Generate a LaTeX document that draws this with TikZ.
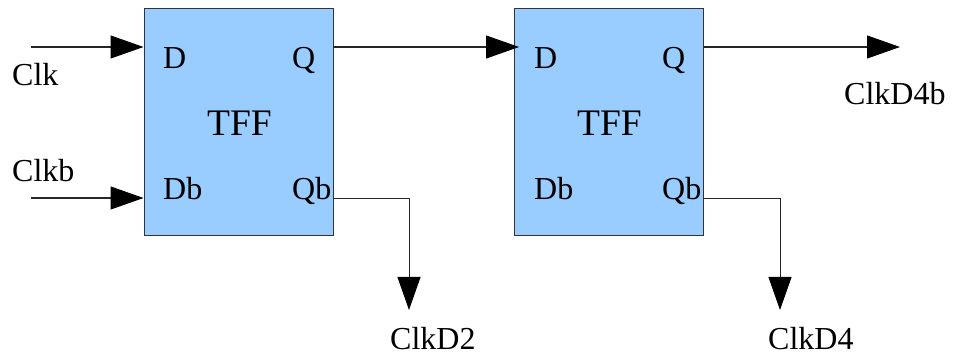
\documentclass[tikz,border=0pt]{standalone}
\usepackage{fontspec}
\setmainfont{Liberation Serif}
\usetikzlibrary{arrows.meta}
\definecolor{boxblue}{HTML}{99CCFF}
\tikzset{
  px/.style={x=1pt,y=-1pt},
  tff/.style={draw=black!80,fill=boxblue,line width=1pt,minimum width=189pt,minimum height=227pt,inner sep=0pt},
  lab/.style={font=\fontsize{32}{32}\selectfont,inner sep=0pt,text=black,anchor=base west},
  big/.style={font=\fontsize{37.5}{37.5}\selectfont,inner sep=0pt,text=black,anchor=base west},
  wire/.style={draw=black!85,line width=1.1pt,-{Triangle[length=33pt,width=23pt,color=black,fill=black]}},
  thinwire/.style={draw=black!85,line width=0.9pt,-{Triangle[length=33pt,width=23pt,color=black,fill=black]}},
}
\begin{document}
\begin{tikzpicture}[px]
\useasboundingbox (0,0) rectangle (953,352);
\node[tff] (a) at (238.5,122.5) {};
\node[tff] (b) at (609,122.5) {};
\node[big] (ta) at (207,135.5) {TFF};
\node[big] (tb) at (577,135.5) {TFF};
\node[lab] (ad) at (163,68.7) {D};
\node[lab] (aq) at (292,68.7) {Q};
\node[lab] (adb) at (163,199.7) {Db};
\node[lab] (aqb) at (292,199.7) {Qb};
\node[lab] (bd) at (534,68.7) {D};
\node[lab] (bq) at (662,68.7) {Q};
\node[lab] (bdb) at (534,199.7) {Db};
\node[lab] (bqb) at (662,199.7) {Qb};
\node[lab] (clk) at (12,85.7) {Clk};
\node[lab] (clkb) at (12,181.7) {Clkb};
\node[lab] (d2) at (390,349.7) {ClkD2};
\node[lab] (d4) at (768,349.7) {ClkD4};
\node[lab] (d4b) at (844,104.7) {ClkD4b};
\coordinate (i1) at (31,47);
\coordinate (i2) at (31,198);
\coordinate (ain) at (a.west |- i1);
\coordinate (ain2) at (a.west |- i2);
\coordinate (aout) at (a.east |- i1);
\coordinate (aoutb) at (a.east |- i2);
\coordinate (bin) at (519,47);
\coordinate (bout) at (b.east |- i1);
\coordinate (boutb) at (b.east |- i2);
\coordinate (e1) at (409,310);
\coordinate (e2) at (780,310);
\coordinate (e3) at (900,47);
\draw[wire] (i1) -- (ain);
\draw[wire] (i2) -- (ain2);
\draw[wire] (aout) -- (bin);
\draw[wire] (bout) -- (e3);
\draw[thinwire] (aoutb) -| (e1);
\draw[thinwire] (boutb) -| (e2);
\end{tikzpicture}
\end{document}
